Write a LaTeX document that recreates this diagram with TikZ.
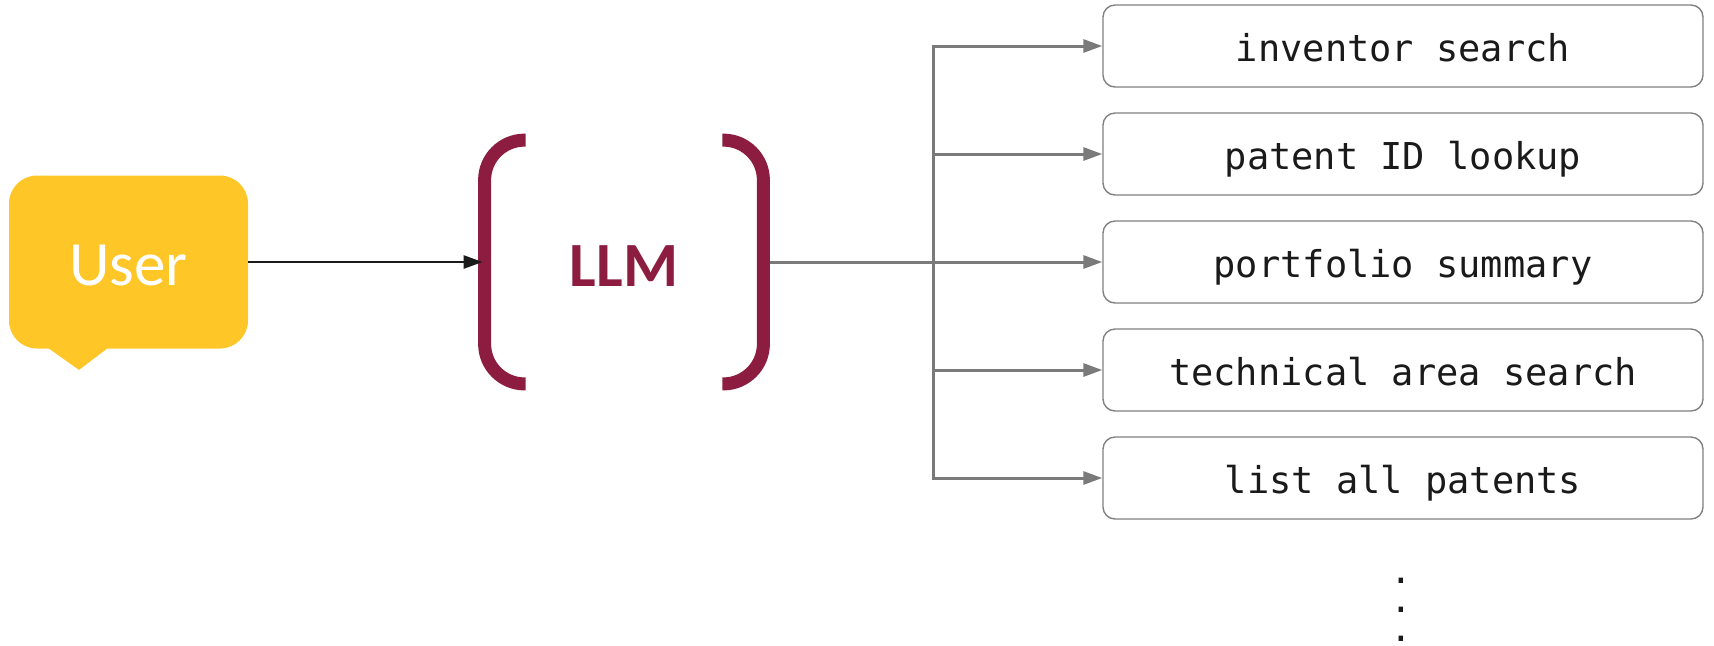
\documentclass[tikz,border=0pt]{standalone}
\usepackage{fontspec}
\setmainfont{Carlito}
\newfontfamily\monofont{DejaVu Sans Mono}
\usetikzlibrary{arrows.meta,calc}
\definecolor{gold}{HTML}{FFC627}
\definecolor{maroon}{HTML}{8C1D40}
\definecolor{conngray}{HTML}{7A7A7A}
\definecolor{boxgray}{HTML}{808080}
\definecolor{inkblack}{HTML}{1A1A1A}
\begin{document}
\begin{tikzpicture}[x=0.5pt,y=-0.5pt,
  bubble/.style={rectangle, rounded corners=14pt, fill=gold, minimum width=119.5pt,
    minimum height=86.5pt, inner sep=0pt, text=white,
    font=\fontsize{31.5}{36}\selectfont, text height=23.5pt, text depth=0pt},
  llmbox/.style={rectangle, minimum width=139pt, minimum height=121.5pt, inner sep=0pt,
    text=maroon, font=\bfseries\fontsize{31.5}{36}\selectfont, text height=24.5pt, text depth=0pt},
  bracket/.style={draw=maroon, line width=6.5pt, rounded corners=20pt},
  toolbox/.style={rectangle, draw=boxgray, line width=0.7pt, rounded corners=6pt,
    minimum width=300pt, minimum height=41pt, inner sep=0pt, text=inkblack,
    font=\monofont\fontsize{18.5}{22}\selectfont, text height=19pt, text depth=4pt},
  conn/.style={draw=conngray, line width=1.5pt},
  tip/.style={-{Triangle[length=9.5pt,width=6.5pt]}},
  dotsnode/.style={inner sep=0pt, align=center, text=inkblack,
    font=\monofont\fontsize{18}{14.5}\selectfont}
]
\useasboundingbox (0,0) rectangle (1714,645);

% user bubble
\node[bubble] (user) at (128.5,262) {User};
\fill[gold] ($(user.south)+(-80.5,-1)$) -- ($(user.south)+(-49.5,21)$) -- ($(user.south)+(-20.5,-1)$) -- cycle;

% LLM
\node[llmbox] (llm) at (624,262) {LLM};

% connectors
\coordinate (trunk) at (933,262);
\draw[conn] (llm.east) -- (trunk);

\draw[bracket] ($(llm.north west)+(41,0)$) -- (llm.north west) -- (llm.south west) -- ($(llm.south west)+(41,0)$);
\draw[bracket] ($(llm.north east)+(-41,0)$) -- (llm.north east) -- (llm.south east) -- ($(llm.south east)+(-41,0)$);

\draw[draw=inkblack, line width=1.3pt, tip, shorten >=1pt] (user.east) -- (llm.west);

% tool boxes
\node[toolbox] (b1) at (1403,46) {inventor search};
\node[toolbox] (b2) at (1403,154) {patent ID lookup};
\node[toolbox] (b3) at (1403,262) {portfolio summary};
\node[toolbox] (b4) at (1403,370) {technical area search};
\node[toolbox] (b5) at (1403,478) {list all patents};

\draw[conn, line cap=rect] (trunk |- b1.west) -- (trunk |- b5.west);
\foreach \b in {b1,b2,b3,b4,b5}{
  \draw[conn, tip] (trunk |- \b.west) -- (\b.west);
}

\node[dotsnode] (dots) at (1401,610) {.\\.\\.};
\end{tikzpicture}
\end{document}
